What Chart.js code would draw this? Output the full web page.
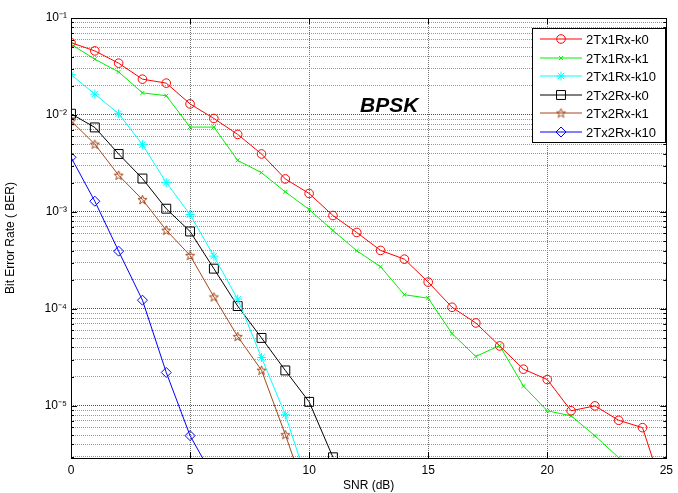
<!DOCTYPE html>
<html>
<head>
<meta charset="utf-8">
<script src="https://cdn.jsdelivr.net/npm/chart.js@4/dist/chart.umd.min.js"></script>
<style>
  html, body { margin: 0; padding: 0; background: #fff; }
  #wrap { position: relative; width: 678px; height: 493px; }
</style>
</head>
<body>
<div id="wrap"><canvas id="ber-chart"></canvas></div>
<script>
// BER vs SNR, BPSK, 2Tx with 1 or 2 Rx

const snr = [0, 1, 2, 3, 4, 5, 6, 7, 8, 9, 10, 11, 12, 13, 14, 15, 16, 17, 18, 19, 20, 21, 22, 23, 24, 25];

const ber1RxK0 = [0.0557, 0.0458, 0.0342, 0.0234, 0.0213, 0.0130, 0.0092, 0.0063, 0.00396, 0.00219, 0.00155, 0.000918, 0.000614,
  0.000401, 0.000326, 0.000189, 0.000104, 7.16e-5, 4.15e-5, 2.39e-5, 1.87e-5, 8.9e-6, 1.0e-5, 7.1e-6, 5.96e-6, 1.06e-6];
const ber1RxK1 = [0.0536, 0.0376, 0.0278, 0.0169, 0.0158, 0.0075, 0.0075, 0.0034, 0.00254, 0.00161, 0.00106, 0.000644, 0.000398,
  0.000272, 0.00014, 0.000129, 5.57e-5, 3.23e-5, 4.19e-5, 1.6e-5, 8.9e-6, 7.9e-6, 4.92e-6, 2.92e-6, null, null];
const ber1RxK10 = [0.0261, 0.0164, 0.0103, 0.00494, 0.00201, 0.00094, 0.00035, 0.000126, 3.15e-5, 8.1e-6, 1.44e-6];
const ber2RxK0 = [0.0103, 0.00744, 0.00396, 0.00221, 0.00108, 0.000629, 0.00026, 0.000107, 5.02e-5, 2.32e-5, 1.1e-5, 2.95e-6];
const ber2RxK1 = [0.0087, 0.0050, 0.00239, 0.00134, 0.000648, 0.000356, 0.000133, 5.19e-5, 2.33e-5, 5.05e-6, 1.0e-6];
const ber2RxK10 = [0.00366, 0.00129, 0.000394, 0.000123, 2.21e-5, 4.93e-6, 1.8e-6];

const seriesLabels = ['2Tx1Rx-k0', '2Tx1Rx-k1', '2Tx1Rx-k10', '2Tx2Rx-k0', '2Tx2Rx-k1', '2Tx2Rx-k10'];

const xTicks = [0, 5, 10, 15, 20, 25];
const yDecades = [1e-5, 1e-4, 1e-3, 1e-2, 1e-1];
const yDecadeLabels = ['10\u207B\u2075', '10\u207B\u2074', '10\u207B\u00B3', '10\u207B\u00B2', '10\u207B\u00B9'];
const yMin = 2.9e-6;
const yMax = 0.1;

const FONT = "'Liberation Sans', Arial, sans-serif";
const BROWN = '#a4481c';

// MATLAB-style pentagram marker
function makePentagram(color) {
  const c = document.createElement('canvas');
  c.width = 11; c.height = 11;
  const g = c.getContext('2d');
  g.strokeStyle = color;
  g.lineWidth = 1;
  g.beginPath();
  for (let i = 0; i < 10; i++) {
    const r = i % 2 === 0 ? 4.8 : 2.0;
    const a = -Math.PI / 2 + i * Math.PI / 5;
    const px = 5.5 + r * Math.cos(a), py = 5.9 + r * Math.sin(a);
    if (i === 0) g.moveTo(px, py); else g.lineTo(px, py);
  }
  g.closePath();
  g.stroke();
  return c;
}

function toPoints(arr) {
  const pts = [];
  arr.forEach((v, i) => { if (v != null) pts.push({ x: snr[i], y: v }); });
  return pts;
}

function series(idx, arr, color, style, radius) {
  return {
    label: seriesLabels[idx],
    data: toPoints(arr),
    borderColor: color,
    backgroundColor: 'rgba(0,0,0,0)',
    pointBorderColor: color,
    pointBackgroundColor: 'rgba(0,0,0,0)',
    borderWidth: 1,
    pointBorderWidth: 1,
    pointStyle: style,
    pointRadius: radius,
    tension: 0
  };
}

const boxAndLegend = {
  id: 'boxAndLegend',
  afterDatasetsDraw(chart) {
    const { ctx, chartArea: { top, bottom, left, right }, scales: { x, y } } = chart;
    ctx.save();
    // inner ticks, MATLAB style
    ctx.strokeStyle = '#000';
    ctx.lineWidth = 1;
    ctx.setLineDash([]);
    ctx.beginPath();
    y.ticks.forEach(t => {
      const py = Math.round(y.getPixelForValue(t.value)) + 0.5;
      const len = t.major ? 6 : 3;
      ctx.moveTo(left, py); ctx.lineTo(left + len, py);
      ctx.moveTo(right, py); ctx.lineTo(right - len, py);
    });
    x.ticks.forEach(t => {
      const px = Math.round(x.getPixelForValue(t.value)) + 0.5;
      ctx.moveTo(px, bottom); ctx.lineTo(px, bottom - 6);
      ctx.moveTo(px, top); ctx.lineTo(px, top + 6);
    });
    ctx.stroke();
    ctx.strokeRect(Math.round(left) + 0.5, Math.round(top) + 0.5, Math.round(right - left), Math.round(bottom - top));

    // annotation
    ctx.fillStyle = '#000';
    ctx.font = 'italic bold 21px ' + FONT;
    ctx.textAlign = 'left';
    ctx.textBaseline = 'alphabetic';
    ctx.fillText('BPSK', 360, 112);

    // legend
    const lx = 532, ly = 28, lw = 133, lh = 114;
    ctx.fillStyle = '#fff';
    ctx.fillRect(lx, ly, lw, lh);
    ctx.strokeStyle = '#000';
    ctx.strokeRect(lx + 0.5, ly + 0.5, lw, lh);
    ctx.font = '13px ' + FONT;
    ctx.textBaseline = 'middle';
    chart.data.datasets.forEach((ds, i) => {
      const ry = Math.round(39 + i * 18.5);
      ctx.strokeStyle = ds.borderColor;
      ctx.lineWidth = 1;
      ctx.beginPath();
      ctx.moveTo(540, ry); ctx.lineTo(582, ry);
      ctx.stroke();
      ctx.strokeStyle = ds.borderColor;
      ctx.fillStyle = 'rgba(0,0,0,0)';
      Chart.helpers.drawPoint(ctx, { pointStyle: ds.pointStyle, radius: ds.pointRadius, borderWidth: 1, rotation: 0 }, 561, ry);
      ctx.fillStyle = '#000';
      ctx.fillText(ds.label, 586, ry + 1);
    });
    ctx.restore();
  }
};

const chart = new Chart(document.getElementById('ber-chart').getContext('2d'), {
  type: 'line',
  data: {
    datasets: [
      series(0, ber1RxK0, '#ff0000', 'circle', 4.3),
      series(1, ber1RxK1, '#00ee00', 'crossRot', 2.8),
      series(2, ber1RxK10, '#00ffff', 'star', 4.5),
      series(3, ber2RxK0, '#000000', 'rect', 6.3),
      series(4, ber2RxK1, BROWN, makePentagram(BROWN), 5),
      series(5, ber2RxK10, '#0000ff', 'rectRot', 5)
    ]
  },
  options: {
    responsive: true,
    maintainAspectRatio: false,
    animation: false,
    events: [],
    layout: { padding: { top: 18, right: 7, left: 0, bottom: 0 } },
    plugins: { legend: { display: false }, tooltip: { enabled: false } },
    scales: {
      x: {
        type: 'linear',
        min: 0,
        max: 25,
        afterBuildTicks: s => { s.ticks = xTicks.map(v => ({ value: v })); },
        afterFit: s => { s.height = 35; },
        grid: { color: '#707070', lineWidth: 1, drawTicks: false },
        border: { display: false, dash: [1, 1] },
        ticks: { color: '#000', padding: 5, font: { family: FONT, size: 12 } },
        title: { display: true, text: 'SNR (dB)', color: '#000', padding: { top: 0, bottom: 0 }, font: { family: FONT, size: 12 } }
      },
      y: {
        type: 'logarithmic',
        min: yMin,
        max: yMax,
        afterBuildTicks: s => {
          const t = [];
          for (let e = -6; e <= -2; e++) {
            for (let k = 1; k <= 9; k++) {
              const v = Number((k * Math.pow(10, e)).toPrecision(3));
              if (v >= yMin && v < yMax) t.push({ value: v, major: k === 1 });
            }
          }
          t.push({ value: yMax, major: true });
          s.ticks = t;
        },
        afterFit: s => { s.width = 71; },
        grid: {
          color: c => (c.tick && c.tick.major ? '#505050' : '#989898'),
          lineWidth: 1,
          drawTicks: false
        },
        border: { display: false, dash: [1, 1] },
        ticks: {
          autoSkip: false,
          color: '#000',
          padding: 4,
          font: { family: FONT, size: 12 },
          callback: v => {
            const i = yDecades.findIndex(d => Math.abs(Math.log10(v / d)) < 1e-6);
            return i >= 0 ? yDecadeLabels[i] : '';
          }
        },
        title: { display: true, text: 'Bit Error Rate ( BER)', color: '#000', padding: { top: 3, bottom: 0 }, font: { family: FONT, size: 12 } }
      }
    }
  },
  plugins: [boxAndLegend]
});
</script>
</body>
</html>
